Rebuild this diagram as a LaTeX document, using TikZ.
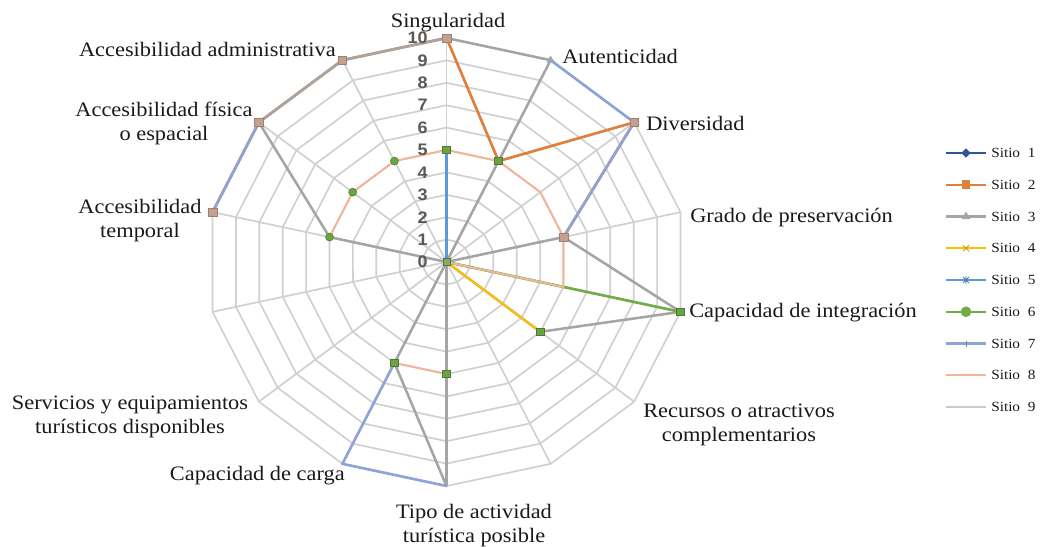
\documentclass[tikz,border=0pt]{standalone}
\usepackage{fontspec}
\setmainfont{Liberation Serif}[FakeStretch=1.09]
\newfontfamily\numfont{Liberation Sans}[FakeStretch=1.08]
\usetikzlibrary{shapes.geometric}
\definecolor{gridc}{HTML}{D0D0D0}
\definecolor{sA}{HTML}{2F5597}
\definecolor{sB}{HTML}{E07E3C}
\definecolor{sC}{HTML}{A5A5A5}
\definecolor{sD}{HTML}{FFC000}
\definecolor{sE}{HTML}{5B9BD5}
\definecolor{sF}{HTML}{70AD47}
\definecolor{sG}{HTML}{8FA4D6}
\definecolor{sH}{HTML}{F2B59A}
\definecolor{sI}{HTML}{C9C9C9}
\definecolor{numc}{HTML}{595959}
\definecolor{txt}{HTML}{1A1A1A}
\definecolor{mkbrown}{HTML}{C4A08F}
\definecolor{mkgreen}{HTML}{6AA544}
\tikzset{
  gridline/.style={draw=gridc, line width=1.25pt},
  serB/.style={draw=sB, line width=2pt, line join=round},
  serC/.style={draw=sC, line width=1.9pt, line join=round},
  serD/.style={draw=sD, line width=1.6pt},
  serE/.style={draw=sE, line width=2.2pt},
  serF/.style={draw=sF, line width=2pt},
  serG/.style={draw=sG, line width=2pt, line join=round},
  serH/.style={draw=sH, line width=1.5pt, line join=round},
  lbl/.style={inner sep=0pt, text=txt, font=\fontsize{15.4}{18}\selectfont},
  numlbl/.style={inner sep=0pt, text=numc, font=\numfont\bfseries\fontsize{12.5}{14}\selectfont},
  leglbl/.style={inner sep=0pt, text=txt, font=\fontsize{10.5}{12}\selectfont},
  mkg/.style={rectangle, fill=mkgreen, draw=sF!70!black, line width=0.4pt, minimum width=6pt, minimum height=5.5pt, inner sep=0pt},
  mkgc/.style={circle, fill=mkgreen, draw=sF!70!black, line width=0.4pt, minimum size=6pt, inner sep=0pt},
  mkb/.style={rectangle, fill=mkbrown, draw=mkbrown!80!black, line width=0.4pt, minimum width=6.5pt, minimum height=6pt, inner sep=0pt},
}
\begin{document}
\begin{tikzpicture}[x=0.75pt,y=-0.75pt]
\useasboundingbox (0,0) rectangle (1041,546);
\fill[white] (0,0) rectangle (1041,546);
% coordinates of the radar grid: 14 axes, values 0..10
\foreach \k in {0,...,13}{
  \foreach \v in {0,...,10}{
    \coordinate (a\k-\v) at ({446.5+24*\v*sin(\k*360/14)},{262-22.4*\v*cos(\k*360/14)});
  }
}
\coordinate (c) at (446.5,262);
% grid rings
\foreach \v in {1,...,10}{
  \draw[gridline] (a0-\v) -- (a1-\v) -- (a2-\v) -- (a3-\v) -- (a4-\v) -- (a5-\v) -- (a6-\v) -- (a7-\v) -- (a8-\v) -- (a9-\v) -- (a10-\v) -- (a11-\v) -- (a12-\v) -- (a13-\v) -- cycle;
}
% spokes
\foreach \k in {0,...,13}{
  \draw[gridline] (c) -- (a\k-10);
}
% Sitio 2
\draw[serB] (a11-10) -- (a12-10) -- (a13-10) -- (a0-10) -- (a1-5) -- (a2-10) -- (a3-5);
% Sitio 3
\draw[serC] (a12-10) -- (a13-10) -- (a0-10) -- (a1-10) -- (c) -- (a3-5) -- (a4-10) -- (a5-5) -- (c) -- (a7-10) -- (a8-5) -- (c) -- (a11-5) -- (a12-10);
% Sitio 4
\draw[serD] (c) -- (a5-5);
% Sitio 5
\draw[serE] (c) -- (a0-5);
% Sitio 6
\draw[serF] (c) -- (a4-10);
% Sitio 7
\draw[serG] (a11-10) -- (a12-10);
\draw[serG] (a1-10) -- (a2-10) -- (a3-5);
\draw[serG] (a7-10) -- (a8-10) -- (a8-5);
% Sitio 8
\draw[serH] (a11-5) -- (a12-5) -- (a13-5) -- (a0-5) -- (a1-5) -- (a2-5) -- (a3-5) -- (a4-5) -- (c);
\draw[serH] (a7-5) -- (a8-5);
% markers
\foreach \p in {a0-10,a2-10,a11-10,a12-10,a13-10,a3-5}{
  \node[mkb] at (\p) {};
}
\node[regular polygon, regular polygon sides=3, fill=sC!80!sG, inner sep=0pt, minimum size=7pt] at (a1-10) {};
\foreach \p in {a0-5,a1-5,a4-10,a5-5,a7-5,a8-5}{
  \node[mkg] at (\p) {};
}
\foreach \p in {a11-5,a12-5,a13-5}{
  \node[mkgc] at (\p) {};
}
\node[mkg, minimum width=5pt, minimum height=5pt, fill=sF!60!sC] at (c) {};
% value labels
\foreach \v in {0,...,10}{
  \node[numlbl, anchor=east] (n\v) at (428,{262-22.4*\v}) {\v};
}
% axis labels
\node[lbl, anchor=base] (lsing) at (448,27) {Singularidad};
\node[lbl, anchor=base west] (laut) at (562,63) {Autenticidad};
\node[lbl, anchor=base west] (ldiv) at (646,130) {Diversidad};
\node[lbl, anchor=base west] (lgra) at (690,222) {Grado de preservación};
\node[lbl, anchor=base west] (lcap) at (689,317) {Capacidad de integración};
\node[lbl, align=center] (lrec) at (739,425) {Recursos o atractivos\\complementarios};
\node[lbl, align=center] (ltip) at (474,526) {Tipo de actividad\\turística posible};
\node[lbl, anchor=base east] (lcar) at (345,480) {Capacidad de carga};
\node[lbl, align=center] (lser) at (130,417) {Servicios y equipamientos\\turísticos disponibles};
\node[lbl, align=center] (ltem) at (140,221) {Accesibilidad\\temporal};
\node[lbl, align=center] (lfis) at (164,123) {Accesibilidad física\\o espacial};
\node[lbl, anchor=base east] (ladm) at (336,56) {Accesibilidad administrativa};
% legend
\foreach \i/\col in {1/sA,2/sB,3/sC,4/sD,5/sE,6/sF,7/sG,8/sH,9/sI}{
  \coordinate (g\i l) at (946,{153+(\i-1)*31.75});
  \coordinate (g\i r) at (986,{153+(\i-1)*31.75});
  \coordinate (g\i m) at (966,{153+(\i-1)*31.75});
  \draw[draw=\col, line width=1.6pt] (g\i l) -- (g\i r);
  \node[leglbl, anchor=west] (leg\i) at (991,{153+(\i-1)*31.75}) {Sitio~~\i};
}
\node[diamond, fill=sA, inner sep=0pt, minimum size=7pt] at (g1m) {};
\node[rectangle, fill=sB, inner sep=0pt, minimum size=6.5pt] at (g2m) {};
\node[regular polygon, regular polygon sides=3, fill=sC, inner sep=0pt, minimum size=7.5pt] at (g3m) {};
\draw[draw=sD!80!black, line width=0.7pt] ([shift={(-3,-3)}]g4m) -- ([shift={(3,3)}]g4m) ([shift={(-3,3)}]g4m) -- ([shift={(3,-3)}]g4m);
\draw[draw=sE!80!black, line width=0.7pt] ([shift={(-3,-3)}]g5m) -- ([shift={(3,3)}]g5m) ([shift={(-3,3)}]g5m) -- ([shift={(3,-3)}]g5m) ([shift={(0,-4)}]g5m) -- ([shift={(0,4)}]g5m);
\node[circle, fill=sF, inner sep=0pt, minimum size=8pt] at (g6m) {};
\draw[draw=sG!80!black, line width=0.7pt] ([shift={(0,-3)}]g7m) -- ([shift={(0,3)}]g7m);
\end{tikzpicture}
\end{document}
